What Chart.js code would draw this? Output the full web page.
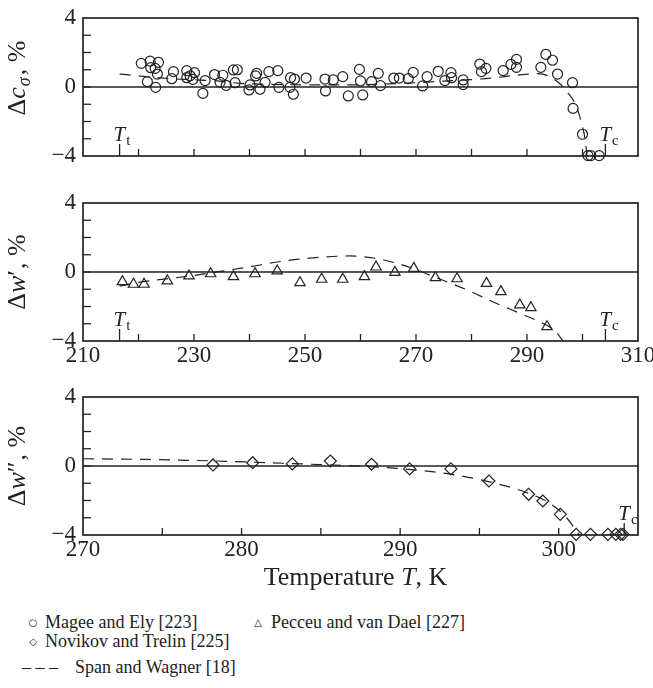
<!DOCTYPE html>
<html>
<head>
<meta charset="utf-8">
<script src="https://cdn.jsdelivr.net/npm/chart.js@4.4.0/dist/chart.umd.min.js"></script>
<style>
  html, body { margin: 0; padding: 0; background: #fff; }
  #wrap { position: relative; width: 653px; height: 688px; font-family: "Liberation Serif", "Times New Roman", serif; color: #222; }
  .panel { position: absolute; left: 0; width: 653px; }
  .panel canvas { display: block; }
  #xtitle { position: absolute; left: 78px; width: 555px; top: 564px; text-align: center; font-size: 26px; line-height: 1; }
  .leg { position: absolute; font-size: 18px; line-height: 1; white-space: nowrap; }
  .sym { position: absolute; font-family: "DejaVu Sans", sans-serif; font-size: 10px; line-height: 1; transform: translate(-50%, -50%); }
</style>
</head>
<body>
<div id="wrap">
  <div class="panel" style="top:0;height:180px"><canvas id="c1" width="653" height="180"></canvas></div>
  <div class="panel" style="top:185px;height:190px"><canvas id="c2" width="653" height="190"></canvas></div>
  <div class="panel" style="top:379px;height:190px"><canvas id="c3" width="653" height="190"></canvas></div>
  <div id="xtitle">Temperature <i>T</i>, K</div>
  <span class="sym" style="left:33px;top:623px">○</span>
  <div class="leg" style="left:45px;top:613px">Magee and Ely [223]</div>
  <span class="sym" style="left:258px;top:623px">△</span>
  <div class="leg" style="left:271px;top:613px">Pecceu and van Dael [227]</div>
  <span class="sym" style="left:33px;top:642px">◇</span>
  <div class="leg" style="left:45px;top:632px">Novikov and Trelin [225]</div>
  <div class="leg" style="left:22px;top:658px">– – –</div>
  <div class="leg" style="left:75px;top:658px">Span and Wagner [18]</div>
</div>
<script>
  'use strict';

  var INK = '#222';
  var T_TRIPLE = 216.59;
  var T_CRIT = 304.13;

  // --- Heat capacity along saturation (Magee and Ely) ---
  var magT = [220.5, 222.1, 223.6, 222.2, 223.0, 223.4, 221.6, 223.1, 226.3, 226.0, 228.7, 230.1, 228.7, 229.8, 229.3,
    231.6, 232.0, 233.7, 235.2, 234.7, 235.8, 237.1, 237.8, 237.4, 239.9, 240.1, 241.1, 241.3, 241.9, 242.8, 243.5,
    245.1, 245.3, 247.4, 247.3, 247.9, 248.1, 250.2, 253.6, 253.7, 255.1, 256.8, 257.8, 259.8, 260.0, 260.4, 262.0,
    263.2, 263.6, 266.0, 267.0, 268.6, 269.5, 271.2, 272.0, 274.0, 275.2, 276.3, 276.4, 278.5, 278.5, 281.5, 281.8,
    282.6, 285.7, 287.1, 288.1, 288.1, 292.5, 293.4, 294.6, 295.5, 298.2, 298.3, 300.0, 301.0, 301.5, 303.0];
  var magDev = [1.37, 1.5, 1.43, 1.12, 1.08, 0.75, 0.31, -0.02, 0.89, 0.48, 0.95, 0.83, 0.54, 0.44, 0.65,
    -0.37, 0.37, 0.72, 0.68, 0.27, 0.1, 0.99, 1.0, 0.25, -0.17, 0.12, 0.64, 0.79, -0.13, 0.27, 0.89,
    0.95, -0.02, 0.54, -0.02, -0.42, 0.46, 0.52, 0.46, -0.23, 0.41, 0.6, -0.52, 1.02, 0.35, -0.46, 0.31,
    0.79, 0.08, 0.52, 0.52, 0.48, 0.85, 0.06, 0.6, 0.91, 0.37, 0.83, 0.54, 0.41, 0.14, 1.33, 0.89,
    1.08, 0.95, 1.31, 1.6, 1.14, 1.14, 1.89, 1.55, 0.75, 0.25, -1.24, -2.74, -3.98, -3.98, -3.98];
  var swCsT = [216.6, 219, 222, 226, 230, 234, 238, 242, 246, 250, 255, 260, 265, 270, 275, 280, 284, 288, 292,
    294, 295.5, 296.5, 297.5, 298.5, 299.3, 300, 300.5, 300.8];
  var swCsDev = [0.75, 0.68, 0.58, 0.48, 0.42, 0.35, 0.22, 0.17, 0.14, 0.12, 0.12, 0.13, 0.18, 0.25, 0.34, 0.43, 0.53, 0.68, 0.77,
    0.62, 0.3, 0, -0.4, -0.85, -1.5, -2.3, -3.1, -4];

  // --- Speed of sound, saturated liquid (Pecceu and van Dael) ---
  var pecT = [217.1, 219.1, 221.0, 225.2, 229.1, 233.0, 237.1, 241.0, 245.0, 249.1, 253.0, 256.8, 260.7, 262.8,
    266.2, 269.6, 273.5, 277.4, 282.7, 285.3, 288.7, 290.7, 293.6];
  var pecDev = [-0.56, -0.71, -0.71, -0.52, -0.23, -0.1, -0.27, -0.1, 0.06, -0.62, -0.42, -0.42, -0.27, 0.29,
    -0.02, 0.21, -0.33, -0.39, -0.66, -1.14, -1.91, -2.07, -3.17];
  var swLiqT = [216.6, 220, 225, 230, 235, 240, 245, 250, 255, 258, 260, 263, 266, 270, 273, 276, 280, 284, 288, 292, 295, 296.5];
  var swLiqDev = [-0.82, -0.6, -0.4, -0.2, 0.05, 0.3, 0.58, 0.78, 0.9, 0.93, 0.9, 0.78, 0.55, 0.15, -0.25, -0.62,
    -1.15, -1.75, -2.3, -2.85, -3.4, -4];

  // --- Speed of sound, saturated vapour (Novikov and Trelin) ---
  var novT = [278.2, 280.7, 283.2, 285.6, 288.2, 290.6, 293.2, 295.6, 298.1, 299.0, 300.1, 301.1, 302.0, 303.1,
    303.6, 303.9, 304.05];
  var novDev = [0.06, 0.19, 0.12, 0.29, 0.1, -0.17, -0.17, -0.87, -1.64, -2.03, -2.8, -3.96, -3.96, -3.96,
    -3.96, -3.96, -3.96];
  var swVapT = [270, 274, 278, 282, 285, 288, 290, 292, 294, 296, 298, 299.5, 300.5, 301.3];
  var swVapDev = [0.42, 0.38, 0.3, 0.18, 0.08, -0.03, -0.15, -0.33, -0.6, -1.0, -1.55, -2.2, -3.0, -4];

  var yLabels = { '4': '4', '0': '0', '-4': '\u22124' };

  function pts(xs, ys) {
    return xs.map(function (x, i) { return { x: x, y: ys[i] }; });
  }

  function seg(ctx, x1, y1, x2, y2) {
    ctx.beginPath();
    ctx.moveTo(x1, y1);
    ctx.lineTo(x2, y2);
    ctx.stroke();
  }

  // draws a list of {t, font, dy} pieces one after another
  function runs(ctx, list, x, y) {
    list.forEach(function (r) {
      ctx.font = r.font;
      ctx.fillText(r.t, x, y + (r.dy || 0));
      x += ctx.measureText(r.t).width + (r.gap || 0);
    });
  }

  function runsWidth(ctx, list) {
    var w = 0;
    list.forEach(function (r) {
      ctx.font = r.font;
      w += ctx.measureText(r.t).width + (r.gap || 0);
    });
    return w;
  }

  var SERIF = '"Liberation Serif", "Times New Roman", serif';
  function f(size, italic) { return (italic ? 'italic ' : '') + size + 'px ' + SERIF; }

  // box, zero line, inner ticks, T_t / T_c marks and the rotated axis title
  var framePlugin = {
    id: 'frame',
    beforeDatasetsDraw: function (chart, args, opts) {
      var ctx = chart.ctx, a = chart.chartArea;
      var x = chart.scales.x, y = chart.scales.y;
      ctx.save();
      ctx.strokeStyle = INK;
      ctx.fillStyle = INK;
      ctx.lineWidth = 1.7;
      ctx.strokeRect(a.left, a.top, a.right - a.left, a.bottom - a.top);
      ctx.lineWidth = 1.3;
      var y0 = y.getPixelForValue(0);
      seg(ctx, a.left, y0, a.right, y0);
      for (var v = -3; v <= 3; v++) {
        var py = y.getPixelForValue(v);
        seg(ctx, a.left, py, a.left + 8, py);
      }
      opts.xTicks.forEach(function (t) {
        var px = x.getPixelForValue(t);
        seg(ctx, px, a.bottom, px, a.bottom - 7);
      });
      ctx.textBaseline = 'alphabetic';
      ctx.textAlign = 'left';
      opts.marks.forEach(function (m) {
        var px = x.getPixelForValue(m.value);
        seg(ctx, px, a.bottom, px, a.bottom - 12);
        runs(ctx, [{ t: 'T', font: f(21, true), gap: 1 }, { t: m.sub, font: f(15), dy: 4 }], px - 6, a.bottom - 15);
      });
      ctx.translate(opts.titleX, (a.top + a.bottom) / 2 + (opts.titleShift || 0));
      ctx.rotate(-Math.PI / 2);
      var w = runsWidth(ctx, opts.title);
      runs(ctx, opts.title, -w / 2, 9);
      ctx.restore();
    }
  };

  function makePanel(id, cfg) {
    var ctx = document.getElementById(id).getContext('2d');
    return new Chart(ctx, {
      type: 'scatter',
      data: { datasets: cfg.datasets },
      options: {
        responsive: false,
        animation: false,
        devicePixelRatio: 1,
        layout: { padding: { left: 0, right: 15, top: 18, bottom: 0 } },
        plugins: {
          legend: { display: false },
          tooltip: { enabled: false },
          frame: cfg.frame
        },
        scales: {
          x: {
            type: 'linear',
            min: cfg.xMin,
            max: cfg.xMax,
            grid: { display: false, drawTicks: false },
            border: { display: false },
            ticks: {
              display: cfg.xLabels,
              stepSize: cfg.xStep,
              padding: 1,
              color: INK,
              font: { family: SERIF, size: 23 },
              maxRotation: 0,
              autoSkip: false,
              callback: function (val) {
                return cfg.xLabelEvery && (val - cfg.xMin) % cfg.xLabelEvery === 0 ? String(val) : '';
              }
            },
            afterFit: function (s) { s.height = cfg.xHeight; s.paddingLeft = 0; s.paddingRight = 0; }
          },
          y: {
            min: -4,
            max: 4,
            grid: { display: false, drawTicks: false },
            border: { display: false },
            ticks: {
              stepSize: 1,
              padding: 7,
              color: INK,
              font: { family: SERIF, size: 23 },
              autoSkip: false,
              callback: function (val) { return yLabels[String(val)] || ''; }
            },
            afterFit: function (s) { s.width = 83; s.paddingTop = 0; s.paddingBottom = 0; }
          }
        }
      },
      plugins: [framePlugin]
    });
  }

  function marks(points, style, radius) {
    return {
      data: points,
      pointStyle: style,
      pointRadius: radius,
      pointBorderWidth: 1.2,
      pointBorderColor: INK,
      pointBackgroundColor: 'rgba(0,0,0,0)',
      showLine: false,
      clip: false
    };
  }

  function dashed(points) {
    return {
      data: points,
      showLine: true,
      pointRadius: 0,
      borderColor: INK,
      borderWidth: 1.2,
      borderDash: [11, 8],
      cubicInterpolationMode: 'monotone',
      fill: false
    };
  }

  var ticks210 = [220, 230, 240, 250, 260, 270, 280, 290, 300];

  makePanel('c1', {
    xMin: 210, xMax: 310, xStep: 10, xLabels: false, xHeight: 24,
    datasets: [dashed(pts(swCsT, swCsDev)), marks(pts(magT, magDev), 'circle', 5)],
    frame: {
      xTicks: ticks210,
      marks: [{ value: T_TRIPLE, sub: 't' }, { value: T_CRIT, sub: 'c' }],
      titleX: 16, titleShift: -9,
      title: [{ t: '\u0394', font: f(26) }, { t: 'c', font: f(26, true), gap: 1 }, { t: '\u03c3', font: f(18, true), dy: 5, gap: 2 },
        { t: ', %', font: f(26) }]
    }
  });

  makePanel('c2', {
    xMin: 210, xMax: 310, xStep: 10, xLabels: true, xLabelEvery: 20, xHeight: 34,
    datasets: [dashed(pts(swLiqT, swLiqDev)), marks(pts(pecT, pecDev), 'triangle', 6)],
    frame: {
      xTicks: ticks210,
      marks: [{ value: T_TRIPLE, sub: 't' }, { value: T_CRIT, sub: 'c' }],
      titleX: 16,
      title: [{ t: '\u0394', font: f(26) }, { t: 'w', font: f(26, true) }, { t: '\u2032', font: f(26), gap: 1 }, { t: ', %', font: f(26) }]
    }
  });

  makePanel('c3', {
    xMin: 270, xMax: 305, xStep: 5, xLabels: true, xLabelEvery: 10, xHeight: 34,
    datasets: [dashed(pts(swVapT, swVapDev)), marks(pts(novT, novDev), 'rectRot', 6)],
    frame: {
      xTicks: [275, 280, 285, 290, 295, 300],
      marks: [{ value: T_CRIT, sub: 'c' }],
      titleX: 16,
      title: [{ t: '\u0394', font: f(26) }, { t: 'w', font: f(26, true) }, { t: '\u2033', font: f(26), gap: 1 }, { t: ', %', font: f(26) }]
    }
  });
</script>
</body>
</html>
